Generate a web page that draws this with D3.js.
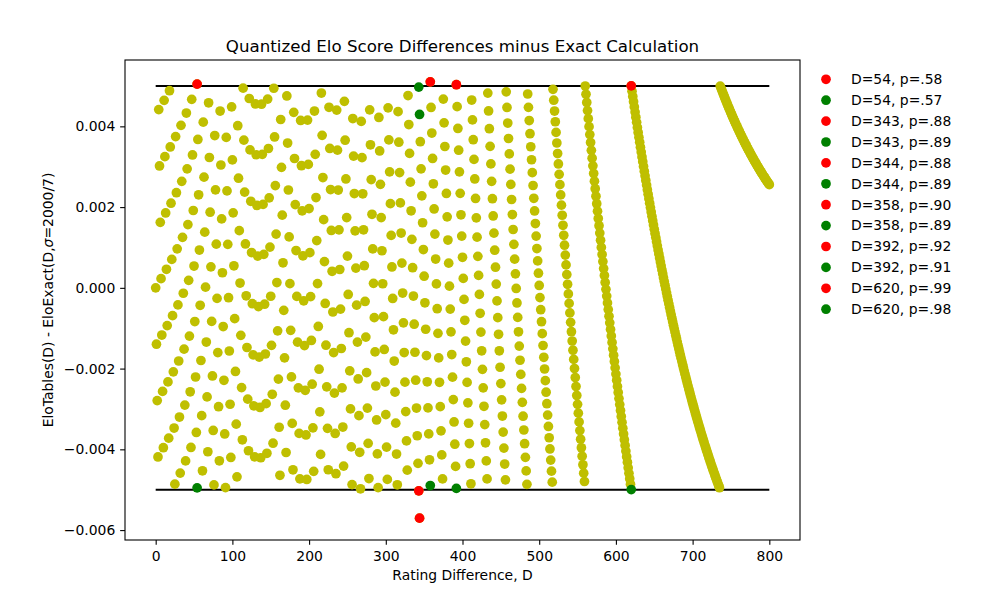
<!DOCTYPE html>
<html>
<head>
<meta charset="utf-8">
<script src="https://d3js.org/d3.v7.min.js"></script>
<style>
  body { margin: 0; background: #fff; }
  svg text { font-family: "DejaVu Sans", sans-serif; fill: #000; }
</style>
</head>
<body>
<div id="chart"></div>
<script>
// quantized table: expected score p and the first rating difference D that gets it
var pLevels = [0.50, 0.51, 0.52, 0.53, 0.54, 0.55, 0.56, 0.57, 0.58, 0.59,
               0.60, 0.61, 0.62, 0.63, 0.64, 0.65, 0.66, 0.67, 0.68, 0.69,
               0.70, 0.71, 0.72, 0.73, 0.74, 0.75, 0.76, 0.77, 0.78, 0.79,
               0.80, 0.81, 0.82, 0.83, 0.84, 0.85, 0.86, 0.87, 0.88, 0.89,
               0.90, 0.91, 0.92, 0.93, 0.94, 0.95, 0.96, 0.97, 0.98, 0.99, 1.00];
var tableStart = [0, 4, 11, 18, 26, 33, 40, 47, 54, 62,
                  69, 77, 84, 92, 99, 107, 114, 122, 130, 138,
                  146, 154, 163, 171, 180, 189, 198, 207, 216, 226,
                  236, 246, 257, 268, 279, 291, 303, 316, 329, 345,
                  358, 375, 392, 412, 433, 457, 485, 518, 560, 620, 736];
var sigma = 2000 / 7;
var maxD = 800;
var limit = 0.005;

// flagged differences (pairs: table value, then rounded value)
var flagD = [54, 54, 343, 343, 344, 344, 358, 358, 392, 392, 620, 620];
var flagP = [0.58, 0.57, 0.88, 0.89, 0.88, 0.89, 0.90, 0.89, 0.92, 0.91, 0.99, 0.98];
var flagLabels = ["D=54, p=.58", "D=54, p=.57", "D=343, p=.88", "D=343, p=.89",
                  "D=344, p=.88", "D=344, p=.89", "D=358, p=.90", "D=358, p=.89",
                  "D=392, p=.92", "D=392, p=.91", "D=620, p=.99", "D=620, p=.98"];

function erf(x) {
  var s = x < 0 ? -1 : 1;
  x = Math.abs(x);
  var t = 1 / (1 + 0.3275911 * x);
  var y = 1 - (((((1.061405429 * t - 1.453152027) * t) + 1.421413741) * t - 0.284496736) * t + 0.254829592) * t * Math.exp(-x * x);
  return s * y;
}
function eloExact(d) { return 0.5 * (1 + erf(d / sigma / Math.SQRT2)); }
function eloTable(d) {
  var i = d3.bisectRight(tableStart, d) - 1;
  return pLevels[i];
}

var diffs = d3.range(0, maxD + 1);
var points = diffs.map(function(d) { return {d: d, v: eloTable(d) - eloExact(d)}; });
var flags = flagD.map(function(d, i) {
  return {d: d, v: flagP[i] - eloExact(d), label: flagLabels[i], color: i % 2 == 0 ? "#ff0000" : "#008000"};
});

var width = 1000, height = 600;
var margin = {left: 125, right: 200, top: 60, bottom: 60};

var svg = d3.select("#chart").append("svg")
  .attr("width", width).attr("height", height);

// matplotlib style 5% padding around the data
var allY = points.map(function(p) { return p.v; }).concat(flags.map(function(f) { return f.v; }), [limit, -limit]);
var yMin = d3.min(allY), yMax = d3.max(allY);
var yPad = (yMax - yMin) * 0.05;
var xPad = maxD * 0.05;

var xs = d3.scaleLinear().domain([-xPad, maxD + xPad]).range([margin.left, width - margin.right]);
var ys = d3.scaleLinear().domain([yMin - yPad, yMax + yPad]).range([height - margin.bottom, margin.top]);

var tick = 4.86;

// x axis
var xAxis = svg.append("g")
  .attr("transform", "translate(0," + (height - margin.bottom) + ")")
  .call(d3.axisBottom(xs).tickValues(d3.range(0, 801, 100)).tickSize(tick).tickPadding(6.5).tickFormat(d3.format("d")));
xAxis.select(".domain").remove();
xAxis.selectAll("line").attr("stroke", "#000").attr("stroke-width", 1.1);
xAxis.selectAll("text").style("font-size", "13.9px").attr("fill", "#000");

// y axis
var yAxis = svg.append("g")
  .attr("transform", "translate(" + margin.left + ",0)")
  .call(d3.axisLeft(ys).tickValues([-0.006, -0.004, -0.002, 0, 0.002, 0.004]).tickSize(tick).tickPadding(4.9).tickFormat(d3.format(".3f")));
yAxis.select(".domain").remove();
yAxis.selectAll("line").attr("stroke", "#000").attr("stroke-width", 1.1);
yAxis.selectAll("text").style("font-size", "13.9px").attr("fill", "#000");

// limit lines
svg.selectAll("line.limit")
  .data([limit, -limit])
  .enter().append("line")
  .attr("class", "limit")
  .attr("x1", xs(0)).attr("x2", xs(maxD))
  .attr("y1", function(d) { return ys(d); }).attr("y2", function(d) { return ys(d); })
  .attr("stroke", "#000").attr("stroke-width", 2.08);

var r = 4.86;

svg.append("g").selectAll("circle")
  .data(points)
  .enter().append("circle")
  .attr("cx", function(d) { return xs(d.d); })
  .attr("cy", function(d) { return ys(d.v); })
  .attr("r", r)
  .attr("fill", "#bfbf00");

svg.append("g").selectAll("circle")
  .data(flags)
  .enter().append("circle")
  .attr("cx", function(d) { return xs(d.d); })
  .attr("cy", function(d) { return ys(d.v); })
  .attr("r", r)
  .attr("fill", function(d) { return d.color; });

// frame
svg.append("rect")
  .attr("x", margin.left).attr("y", margin.top)
  .attr("width", width - margin.left - margin.right)
  .attr("height", height - margin.top - margin.bottom)
  .attr("fill", "none").attr("stroke", "#000").attr("stroke-width", 1.1);

// title
svg.append("text")
  .attr("x", (margin.left + width - margin.right) / 2).attr("y", 52)
  .attr("text-anchor", "middle")
  .style("font-size", "16.67px")
  .text("Quantized Elo Score Differences minus Exact Calculation");

// x label
svg.append("text")
  .attr("x", (margin.left + width - margin.right) / 2).attr("y", 580)
  .attr("text-anchor", "middle")
  .style("font-size", "13.9px")
  .text("Rating Difference, D");

// y label
var yl = svg.append("text")
  .attr("transform", "translate(53," + ((margin.top + height - margin.bottom) / 2) + ") rotate(-90)")
  .attr("text-anchor", "middle")
  .style("font-size", "13.9px");
yl.append("tspan").text("EloTables(D) - EloExact(D,");
yl.append("tspan").style("font-style", "italic").text("\u03c3");
yl.append("tspan").text("=2000/7)");

// legend
var legend = svg.append("g").selectAll("g")
  .data(flags)
  .enter().append("g")
  .attr("transform", function(d, i) { return "translate(826," + (79.3 + i * 20.9) + ")"; });
legend.append("circle").attr("r", r).attr("fill", function(d) { return d.color; });
legend.append("text")
  .attr("x", 25).attr("dy", "0.35em")
  .style("font-size", "13.9px")
  .text(function(d) { return d.label; });
</script>
</body>
</html>
